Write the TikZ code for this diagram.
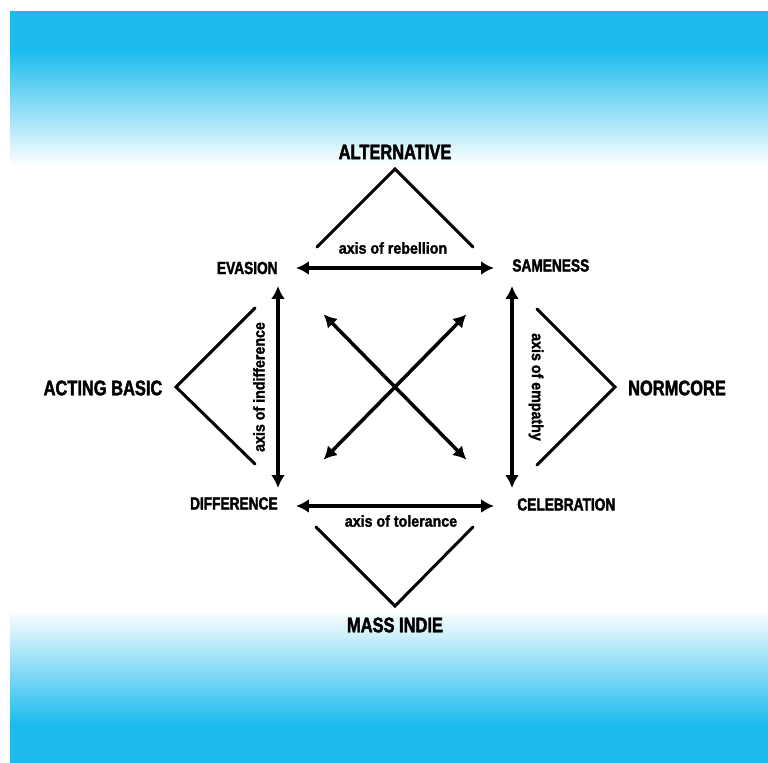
\documentclass[tikz,border=0pt]{standalone}
\usepackage{fontspec}
\setmainfont{Liberation Sans}
\newfontfamily\capsfont{Liberation Sans}[FakeStretch=0.78, FakeBold=2]
\newfontfamily\axisfont{Liberation Sans}[FakeStretch=0.9, FakeBold=1.6]
\usetikzlibrary{arrows.meta}
\definecolor{skyband}{RGB}{28,187,237}

\begin{document}
\begin{tikzpicture}[x=0.02cm, y=-0.02cm, every path/.style={line cap=round},
    axis/.style={{Latex[length=0.26cm,width=0.28cm]}-{Latex[length=0.26cm,width=0.28cm]}, line width=2pt, shorten <=0.36cm, shorten >=0.36cm},
    wedge/.style={line width=1.7pt, line join=miter},
    biglabel/.style={inner sep=0pt, font=\capsfont\bfseries\fontsize{12}{14}\selectfont},
    cornerlabel/.style={inner sep=0pt, font=\capsfont\bfseries\fontsize{10}{12}\selectfont},
    axislabel/.style={inner sep=0pt, font=\axisfont\bfseries\fontsize{9}{11}\selectfont}]
        \useasboundingbox (0,0) rectangle (768,763);
        %Sky bands
        \fill[white] (0,0) rectangle (768,763);
        \fill[skyband] (10,11) rectangle (768,50);
        \shade[top color=skyband, bottom color=white] (10,50) rectangle (768,166);
        \shade[top color=white, bottom color=skyband] (10,610) rectangle (768,724);
        \fill[skyband] (10,724) rectangle (768,763);
        %Corners of the square
        \coordinate (tl) at (278,268);
        \coordinate (tr) at (512,268);
        \coordinate (bl) at (278,506);
        \coordinate (br) at (512,506);
        \node[cornerlabel, anchor=east] (evasion) at (tl) {EVASION};
        \node[cornerlabel, anchor=west] (sameness) at ([yshift=0.05cm]tr) {SAMENESS};
        \node[cornerlabel, anchor=east] (difference) at ([yshift=0.05cm]bl) {DIFFERENCE};
        \node[cornerlabel, anchor=west] (celebration) at ([xshift=0.1cm, yshift=0.03cm]br) {CELEBRATION};
        %Axes
        \draw[axis] (tl) -- (tr);
        \draw[axis] (bl) -- (br);
        \draw[axis] (tl) -- (bl);
        \draw[axis] (tr) -- (br);
        \draw[axis, shorten <=1.3cm, shorten >=1.3cm] (tl) -- (br);
        \draw[axis, shorten <=1.3cm, shorten >=1.3cm] (bl) -- (tr);
        \node[axislabel] (rebellion) at (393,248) {axis of rebellion};
        \node[axislabel] (tolerance) at (401,521) {axis of tolerance};
        \node[axislabel, rotate=90] (indifference) at (259,387) {axis of indifference};
        \node[axislabel, rotate=-90] (empathy) at (536,387) {axis of empathy};
        %Outer positions
        \node[biglabel] (alternative) at (395,152) {ALTERNATIVE};
        \node[biglabel] (actingbasic) at (103,388) {ACTING BASIC};
        \node[biglabel] (normcore) at (677,388) {NORMCORE};
        \node[biglabel] (massindie) at (395,625) {MASS INDIE};
        \draw[wedge] (317,247) -- (395,169) -- (473,247);
        \draw[wedge] (255,308) -- (176,387) -- (255,464);
        \draw[wedge] (537,309) -- (615,387) -- (537,465);
        \draw[wedge] (316,527) -- (395,606) -- (473,527);
\end{tikzpicture}
\end{document}
